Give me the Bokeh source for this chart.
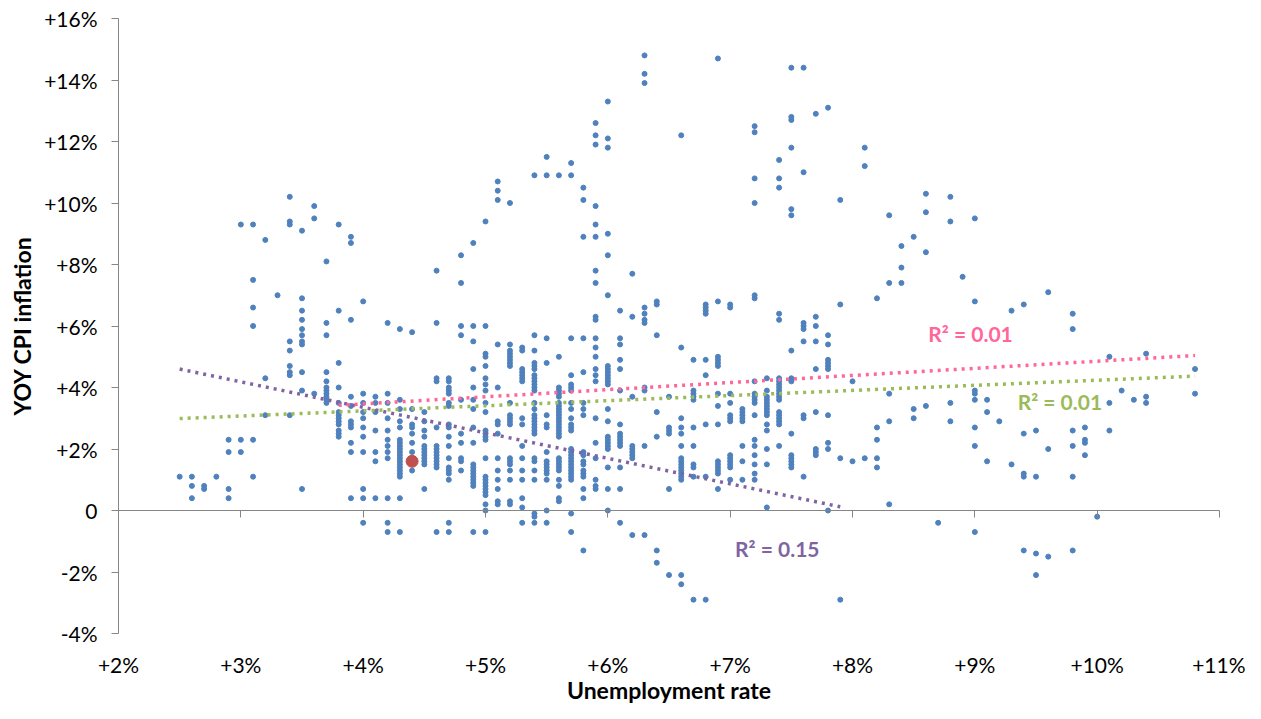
from bokeh.plotting import figure
from bokeh.models import LinearAxis, FixedTicker, ColumnDataSource, Range1d
from bokeh.embed import file_html
from bokeh.resources import INLINE
from bokeh.core.properties import value

# ---------------- data ----------------
# unemployment rate columns (%), and the YOY CPI inflation values (%) observed at each
rates = [2.5, 2.6, 2.7, 2.8, 2.9, 3.0, 3.1, 3.2, 3.3, 3.4, 3.5, 3.6, 3.7, 3.8, 3.9,
         4.0, 4.1, 4.2, 4.3, 4.4, 4.5, 4.6, 4.7, 4.8, 4.9, 5.0, 5.1, 5.2, 5.3, 5.4,
         5.5, 5.6, 5.7, 5.8, 5.9, 6.0, 6.1, 6.2, 6.3, 6.4, 6.5, 6.6, 6.7, 6.8, 6.9,
         7.0, 7.1, 7.2, 7.3, 7.4, 7.5, 7.6, 7.7, 7.8, 7.9, 8.0, 8.1, 8.2, 8.3, 8.4,
         8.5, 8.6, 8.7, 8.8, 8.9, 9.0, 9.1, 9.2, 9.3, 9.4, 9.5, 9.6, 9.8, 9.9, 10.0,
         10.1, 10.2, 10.3, 10.4, 10.8]
inflation_by_rate = [
    [1.1],
    [1.1, 0.8, 0.4],
    [0.8, 0.7],
    [1.1],
    [2.3, 1.9, 0.7, 0.4],
    [9.3, 2.3, 1.9],
    [9.3, 7.5, 6.6, 6.0, 2.3, 1.1],
    [8.8, 4.3, 3.1],
    [7.0],
    [10.2, 9.4, 9.3, 5.5, 5.2, 4.7, 4.5, 4.4, 3.1],
    [9.1, 6.9, 6.5, 6.2, 5.9, 5.7, 5.5, 5.4, 4.5, 3.9, 0.7],
    [9.9, 9.5, 3.8],
    [8.1, 6.1, 5.7, 4.5, 4.2, 4.0, 3.9, 3.8, 3.7, 3.6, 3.5],
    [9.3, 6.5, 4.8, 4.0, 3.5, 3.2, 3.1, 3.0, 2.9, 2.8, 2.6, 2.5, 2.4],
    [8.9, 8.7, 6.2, 3.7, 3.4, 2.9, 2.8, 2.7, 2.2, 1.9, 0.4],
    [6.8, 3.8, 3.5, 3.2, 3.0, 2.7, 2.4, 1.9, 0.7, 0.4, -0.4],
    [3.7, 3.5, 3.2, 2.6, 1.9, 1.6, 0.4],
    [6.1, 3.8, 3.5, 3.0, 2.6, 2.3, 2.1, 1.9, 1.7, 0.4, -0.4, -0.7],
    [5.9, 3.6, 3.3, 2.9, 2.7, 2.3, 2.2, 2.1, 2.0, 1.9, 1.8, 1.7, 1.6, 1.5, 1.4, 1.3,
     1.2, 1.1, 0.4, -0.7],
    [5.8, 3.3, 2.8, 2.7, 2.5, 2.2, 1.9, 1.3],
    [3.2, 2.9, 2.6, 2.4, 2.1, 2.0, 1.9, 1.8, 1.7, 1.6, 1.5, 0.7],
    [7.8, 6.1, 4.3, 4.2, 2.7, 2.1, 2.0, 1.9, 1.8, 1.7, 1.6, 1.5, 1.4, -0.7],
    [4.3, 4.2, 4.0, 3.9, 3.8, 3.5, 3.4, 2.8, 2.7, 2.4, 2.1, 1.7, 1.4, 1.3, 1.2, 1.0,
     -0.4, -0.7],
    [8.3, 7.4, 6.0, 5.7, 3.6, 2.5, 2.2, 1.7, 1.6, 1.3],
    [8.7, 6.0, 5.5, 4.6, 4.0, 3.6, 3.3, 2.7, 2.2, 1.5, 1.4, 1.3, 1.2, 1.1, 1.0, 0.9,
     0.8, -0.7],
    [9.4, 6.0, 5.1, 5.0, 4.7, 4.3, 4.1, 3.9, 3.5, 3.2, 2.6, 2.5, 2.4, 2.3, 1.7, 1.1,
     1.0, 0.9, 0.8, 0.7, 0.6, 0.5, 0.2, 0.0, -0.7],
    [10.7, 10.4, 10.1, 5.4, 4.0, 2.9, 2.8, 2.5, 1.7, 1.3, 1.0, 0.7, 0.3, 0.2],
    [10.0, 5.4, 5.2, 5.1, 5.0, 4.9, 4.8, 4.7, 3.5, 3.1, 3.0, 2.9, 2.8, 1.7, 1.6, 1.5,
     1.3, 1.0, 0.3, 0.2],
    [5.3, 5.2, 4.6, 4.5, 4.4, 4.3, 4.2, 3.0, 2.8, 2.1, 1.7, 1.3, 1.0, 0.4, 0.1, -0.4],
    [10.9, 5.7, 5.2, 4.8, 4.7, 4.6, 4.4, 4.3, 4.2, 4.1, 4.0, 3.9, 3.5, 3.3, 3.1, 3.0,
     2.9, 2.8, 2.7, 2.6, 2.5, 1.7, 1.6, 1.3, 1.0, -0.1, -0.2, -0.4],
    [11.5, 10.9, 5.6, 4.8, 3.1, 2.8, 2.7, 1.9, 1.6, 1.5, 1.4, 1.3, 1.2, 1.0, 0.0, -0.4],
    [10.9, 5.0, 4.0, 3.9, 3.8, 3.7, 3.5, 3.4, 3.3, 3.2, 3.1, 3.0, 2.9, 2.8, 2.7, 2.6,
     2.5, 2.4, 1.7, 1.6, 1.5, 1.4, 1.3, 1.0, 0.8, 0.4, 0.3],
    [11.3, 10.9, 5.6, 4.4, 4.1, 4.0, 3.9, 3.5, 3.3, 3.0, 2.8, 2.7, 2.6, 2.0, 1.9, 1.8,
     1.7, 1.6, 1.5, 1.4, 1.3, 1.2, 1.1, 1.0, -0.1, -0.7],
    [10.5, 10.1, 8.9, 5.6, 4.5, 3.5, 3.3, 3.1, 1.9, 1.8, 1.6, 1.5, 1.3, 1.2, 1.1, 0.7,
     0.4, -1.3],
    [12.6, 12.2, 11.9, 9.9, 9.3, 8.9, 7.8, 7.4, 6.3, 6.2, 5.6, 5.3, 5.0, 4.6, 4.4, 4.2,
     3.0, 2.2, 1.7, 1.0, 0.8, 0.7],
    [13.3, 12.1, 11.8, 9.0, 8.3, 7.0, 4.7, 4.6, 4.5, 4.4, 4.3, 4.2, 4.1, 3.3, 2.9, 2.4,
     2.3, 2.2, 2.1, 2.0, 1.4, 0.7, 0.0],
    [6.5, 5.6, 5.4, 4.9, 4.6, 3.9, 2.8, 2.5, 2.4, 2.3, 2.2, 2.1, 1.4, 0.7, -0.4],
    [7.7, 6.3, 3.7, 2.1, 2.0, 1.9, 1.8, 1.7, -0.8],
    [14.8, 14.2, 13.9, 6.6, 6.4, 6.2, 6.1, 4.0, 3.9, 2.1, -0.8],
    [6.8, 6.7, 5.7, 3.2, 2.4, -1.3, -1.7],
    [3.7, 2.7, 2.6, 2.5, 0.7, -2.1],
    [12.2, 5.3, 3.0, 2.7, 2.5, 2.1, 1.7, 1.6, 1.5, 1.4, 1.3, 1.2, 1.1, 1.0, -2.1, -2.4],
    [4.9, 3.9, 3.8, 3.7, 3.6, 2.7, 2.1, 1.5, 1.4, 1.1, -2.9],
    [6.7, 6.6, 6.5, 6.4, 4.9, 4.4, 2.8, 1.1, -2.9],
    [14.7, 6.8, 5.0, 4.9, 4.8, 4.7, 3.8, 3.4, 2.8, 1.6, 1.5, 1.4, 1.3, 1.2, 0.7],
    [6.7, 6.6, 3.8, 3.5, 3.1, 3.0, 2.9, 1.8, 1.7, 1.6, 1.5, 1.4, 1.0],
    [3.3, 3.2, 3.1, 3.0, 2.9, 2.1, 1.6, 1.0],
    [12.5, 12.3, 10.8, 10.0, 7.0, 6.9, 4.2, 3.8, 3.7, 3.6, 3.5, 3.1, 2.3, 2.1, 1.8, 1.5,
     1.2, 1.0],
    [4.3, 3.9, 3.7, 3.6, 3.5, 3.4, 3.3, 3.2, 3.1, 2.8, 2.6, 2.0, 1.5, 0.1],
    [11.4, 10.8, 10.5, 6.4, 6.2, 4.3, 4.2, 4.1, 4.0, 3.9, 3.8, 3.7, 3.6, 3.2, 3.1, 3.0,
     2.9, 2.8, 2.1],
    [14.4, 12.8, 12.7, 11.8, 9.8, 9.6, 5.2, 4.3, 4.2, 2.5, 1.8, 1.7, 1.6, 1.5, 1.4],
    [14.4, 11.0, 6.1, 6.0, 5.9, 5.5, 3.1, 3.0, 1.1],
    [12.9, 6.3, 6.0, 5.5, 4.6, 3.2, 2.0, 1.9, 1.8],
    [13.1, 5.7, 5.4, 4.9, 4.8, 4.7, 4.6, 3.1, 2.2, 2.0, 0.0],
    [10.1, 6.7, 1.7, -2.9],
    [4.2, 1.6],
    [11.8, 11.2, 1.7],
    [6.9, 2.7, 2.3, 1.7, 1.4],
    [9.6, 7.4, 3.8, 2.9, 0.2],
    [8.6, 7.9, 7.4],
    [8.9, 3.3, 3.0],
    [10.3, 9.7, 8.4, 3.4],
    [-0.4],
    [10.2, 9.4, 3.5, 2.9],
    [7.6],
    [9.5, 6.8, 3.9, 3.8, 3.6, 2.7, 2.1, -0.7],
    [3.6, 3.2, 1.6],
    [2.9],
    [6.5, 1.5],
    [6.7, 2.5, 1.2, 1.1, -1.3],
    [2.6, 1.1, -1.4, -2.1],
    [7.1, 2.0, -1.5],
    [6.4, 5.9, 2.6, 2.1, 1.1, -1.3],
    [2.7, 2.3, 2.2, 1.8],
    [-0.2],
    [5.0, 3.5, 2.6],
    [3.9],
    [3.6],
    [5.1, 3.7, 3.5],
    [4.6, 3.8],
]

# highlighted (latest) observation
current_rate = [4.4]
current_inflation = [1.6]

# trendlines (end points)
trend_purple_x = [2.5, 7.9]
trend_purple_y = [4.6, 0.12]
trend_pink_x = [3.8, 10.8]
trend_pink_y = [3.42, 5.04]
trend_green_x = [2.5, 10.8]
trend_green_y = [2.99, 4.37]

# R² labels
r2_text = ["R² = 0.01", "R² = 0.01", "R² = 0.15"]
r2_x = [8.62, 9.35, 7.04]
r2_y = [5.76, 3.54, -1.24]
r2_colors = ["#FF6699", "#9BBB59", "#8064A2"]

x_ticks = [2, 3, 4, 5, 6, 7, 8, 9, 10, 11]
x_tick_labels = ["+2%", "+3%", "+4%", "+5%", "+6%", "+7%", "+8%", "+9%", "+10%", "+11%"]
y_ticks = [-4, -2, 0, 2, 4, 6, 8, 10, 12, 14, 16]
y_tick_labels = ["-4%", "-2%", "0", "+2%", "+4%", "+6%", "+8%", "+10%", "+12%", "+14%", "+16%"]

# ---------------- layout (canvas pixels) ----------------
W, H = 1245, 703
AREA_LEFT, AREA_RIGHT = 118, 1219     # canvas x of the +2% and +11% positions
AREA_TOP, AREA_BOTTOM = 18, 633       # canvas y of the +16% and -4% positions
x_scale = (AREA_RIGHT - AREA_LEFT) / (x_ticks[-1] - x_ticks[0])
y_scale = (AREA_BOTTOM - AREA_TOP) / (y_ticks[-1] - y_ticks[0])
x_start = x_ticks[0] - AREA_LEFT / x_scale
x_end = x_ticks[-1] + (W - AREA_RIGHT) / x_scale
y_end = y_ticks[-1] + AREA_TOP / y_scale
y_start = y_ticks[0] - (H - AREA_BOTTOM) / y_scale

# ---------------- build ----------------
xs, ys = [], []
for r, vals in zip(rates, inflation_by_rate):
    for v in vals:
        xs.append(r)
        ys.append(v)
pts = ColumnDataSource(dict(x=xs, y=ys))

FONT = "Lato"
AXIS_GREY = "#868686"

p = figure(width=W, height=H,
           x_range=Range1d(x_start, x_end),
           y_range=Range1d(y_start, y_end),
           output_backend="svg", toolbar_location=None,
           x_axis_location=None, y_axis_location=None,
           min_border=0)
p.outline_line_color = None
p.grid.visible = False
p.background_fill_color = "white"
p.border_fill_color = "white"

# y axis (vertical line at +2%)
yaxis = LinearAxis(ticker=FixedTicker(ticks=y_ticks), fixed_location=x_ticks[0],
                   major_label_overrides={t: l for t, l in zip(y_ticks, y_tick_labels)},
                   axis_label="YOY CPI inflation",
                   bounds=(y_ticks[0], y_ticks[-1]))
yaxis.axis_line_color = AXIS_GREY
yaxis.major_tick_line_color = AXIS_GREY
yaxis.major_tick_out = 7
yaxis.major_tick_in = 0
yaxis.minor_tick_out = 0
yaxis.minor_tick_in = 0
yaxis.major_label_standoff = 14
yaxis.major_label_text_font = FONT
yaxis.major_label_text_font_size = "21px"
yaxis.major_label_text_color = "black"
yaxis.axis_label_text_font = FONT
yaxis.axis_label_text_font_size = "23px"
yaxis.axis_label_text_font_style = "bold"
yaxis.axis_label_text_color = "black"
yaxis.axis_label_standoff = 5
p.add_layout(yaxis, "left")

# x axis labels along the bottom edge of the plot area
xlab = LinearAxis(ticker=FixedTicker(ticks=x_ticks), fixed_location=y_ticks[0],
                  major_label_overrides={t: l for t, l in zip(x_ticks, x_tick_labels)},
                  axis_label="Unemployment rate",
                  bounds=(x_ticks[0], x_ticks[-1]))
xlab.axis_line_alpha = 0
xlab.major_tick_out = 0
xlab.major_tick_in = 0
xlab.minor_tick_out = 0
xlab.minor_tick_in = 0
xlab.major_label_standoff = 18
xlab.major_label_text_font = FONT
xlab.major_label_text_font_size = "21px"
xlab.major_label_text_color = "black"
xlab.axis_label_text_font = FONT
xlab.axis_label_text_font_size = "23px"
xlab.axis_label_text_font_style = "bold"
xlab.axis_label_text_color = "black"
xlab.axis_label_standoff = -4
p.add_layout(xlab, "below")

# x axis line crossing at zero with downward ticks
xzero = LinearAxis(ticker=FixedTicker(ticks=x_ticks), fixed_location=0,
                   bounds=(x_ticks[0], x_ticks[-1]))
xzero.axis_line_color = AXIS_GREY
xzero.major_tick_line_color = AXIS_GREY
xzero.major_tick_in = 7
xzero.major_tick_out = 0
xzero.minor_tick_out = 0
xzero.minor_tick_in = 0
xzero.major_label_text_alpha = 0
xzero.major_label_text_font_size = "1px"
xzero.major_label_standoff = 0
p.add_layout(xzero, "above")

# points
p.scatter("x", "y", source=pts, size=5, fill_color="#4F81BD", line_color="#4F81BD")

# trendlines
for tx, ty, c in [(trend_purple_x, trend_purple_y, "#8064A2"),
                  (trend_pink_x, trend_pink_y, "#FF6699"),
                  (trend_green_x, trend_green_y, "#9BBB59")]:
    p.line(tx, ty, line_color=c, line_width=3.5, line_dash="3 5")

# highlighted point
p.scatter(current_rate, current_inflation, size=12, fill_color="#C0504D", line_color="#C0504D")

# R² labels
p.text(x=r2_x, y=r2_y, text=r2_text, text_color=r2_colors,
       text_font=value(FONT), text_font_style="bold", text_font_size="21px",
       text_baseline="middle", text_align="left")

open("out.html", "w").write(file_html(p, INLINE))
